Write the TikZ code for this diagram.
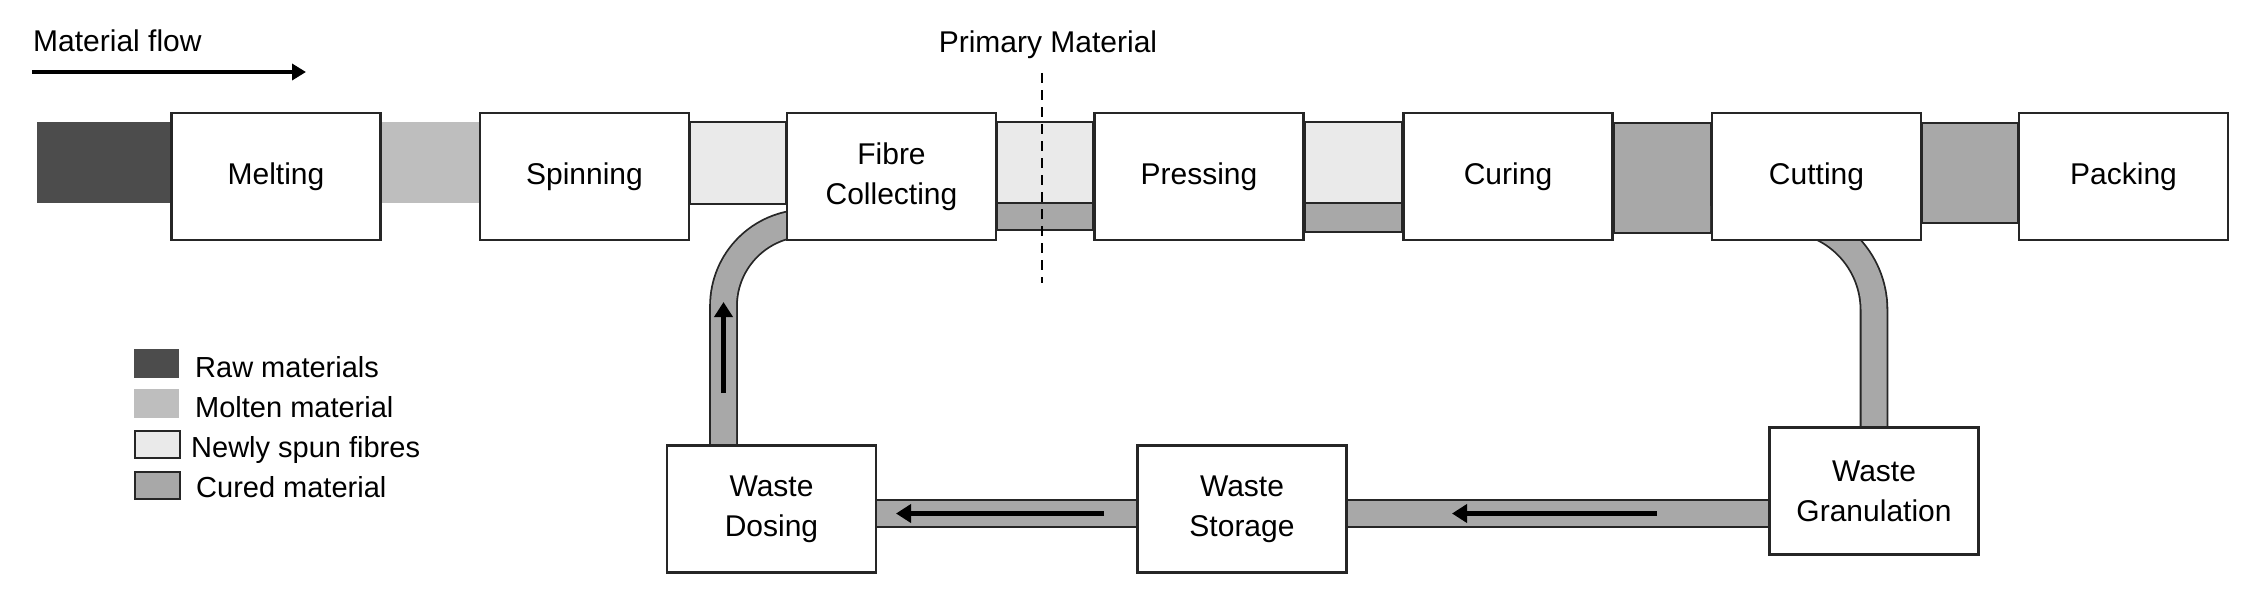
\documentclass[tikz,border=0pt]{standalone}
\usepackage{fontspec}
\setmainfont{Liberation Sans}
\usetikzlibrary{arrows.meta,calc}
\pgfdeclarelayer{bg}
\pgfsetlayers{bg,main}
\definecolor{rawc}{HTML}{4C4C4C}
\definecolor{moltenc}{HTML}{BEBEBE}
\definecolor{spunc}{HTML}{EAEAEA}
\definecolor{curedc}{HTML}{A8A8A8}
\definecolor{edgec}{HTML}{262626}
\begin{document}
\begin{tikzpicture}[x=1pt,y=-1pt,
  proc/.style={draw=edgec, line width=2.5pt, fill=white, minimum width=209pt, minimum height=127pt, inner sep=0pt, align=center, font=\fontsize{30}{40}\selectfont},
  bar/.style={draw=edgec, line width=2pt},
  pipe/.style={draw=edgec, line width=1.8pt, double=curedc, double distance=25pt},
  flowarrow/.style={line width=4.5pt, -{Triangle[length=15pt,width=18pt]}},
  lbl/.style={font=\fontsize{30}{36}\selectfont, inner sep=0pt},
  leg/.style={font=\fontsize{29}{34}\selectfont, inner sep=0pt, anchor=base west}
]
\useasboundingbox (0,0) rectangle (2254,602);
% process boxes
\node[proc] (melt)  at (276,176.5)  {Melting};
\node[proc] (spin)  at (584.5,176.5) {Spinning};
\node[proc] (fibre) at (891.5,176.5) {Fibre\\Collecting};
\node[proc] (press) at (1199,176.5) {Pressing};
\node[proc] (cure)  at (1508,176.5) {Curing};
\node[proc] (cut)   at (1816.5,176.5) {Cutting};
\node[proc] (pack)  at (2123.5,176.5) {Packing};
\node[proc] (dose)  at (771.5,509) {Waste\\Dosing};
\node[proc] (store) at (1242,509) {Waste\\Storage};
\node[proc] (gran)  at (1874,491) {Waste\\Granulation};
% material bars and pipes
\begin{pgfonlayer}{bg}
\fill[rawc] (37,122) rectangle (melt.west |- 0,203);
\fill[moltenc] (melt.east |- 0,122) rectangle (spin.west |- 0,203);
\draw[bar, fill=spunc] (spin.east |- 0,122) rectangle (fibre.west |- 0,204);
\draw[bar, fill=spunc] (fibre.east |- 0,122) rectangle (press.west |- 0,203);
\draw[bar, fill=curedc] (fibre.east |- 0,203) rectangle (press.west |- 0,230);
\draw[bar, fill=spunc] (press.east |- 0,122) rectangle (cure.west |- 0,203);
\draw[bar, fill=curedc] (press.east |- 0,203) rectangle (cure.west |- 0,232);
\draw[bar, fill=curedc] (cure.east |- 0,123) rectangle (cut.west |- 0,233);
\draw[bar, fill=curedc] (cut.east |- 0,123) rectangle (pack.west |- 0,223);
\draw[pipe, rounded corners=83pt] (dose.north -| 723.5,0) -- (723.5,223) -- (fibre.center |- 0,223);
\draw[pipe, rounded corners=91.5pt] (gran.north) -- (gran.north |- 0,218.5) -- (cut.west |- 0,218.5);
\draw[pipe] (store.west |- 0,513.5) -- (dose.east |- 0,513.5);
\draw[pipe] (gran.west |- 0,513.5) -- (store.east |- 0,513.5);
\end{pgfonlayer}
% flow arrows inside pipes
\draw[flowarrow] (723.5,393) -- (723.5,302);
\draw[flowarrow] (1104,513.5) -- (896,513.5);
\draw[flowarrow] (1657,513.5) -- (1452,513.5);
% top labels
\node[lbl, anchor=base west] (mf) at (33,52) {Material flow};
\draw[line width=4pt, -{Triangle[length=14pt,width=16pt]}] (32,72) -- (306,72);
\node[lbl, anchor=base] (pm) at (1048,53) {Primary Material};
\draw[line width=2pt, dash pattern=on 10pt off 7pt] (1042,73) -- (1042,283);
% legend
\fill[rawc] (134,349) rectangle (179,378);
\node[leg] (l1) at (195,377) {Raw materials};
\fill[moltenc] (134,389) rectangle (179,418);
\node[leg] (l2) at (195,417) {Molten material};
\draw[bar, fill=spunc] (135,431) rectangle (180,458);
\node[leg] (l3) at (191,457) {Newly spun fibres};
\draw[bar, fill=curedc] (135,472) rectangle (180,499);
\node[leg] (l4) at (196,497) {Cured material};
\end{tikzpicture}
\end{document}
